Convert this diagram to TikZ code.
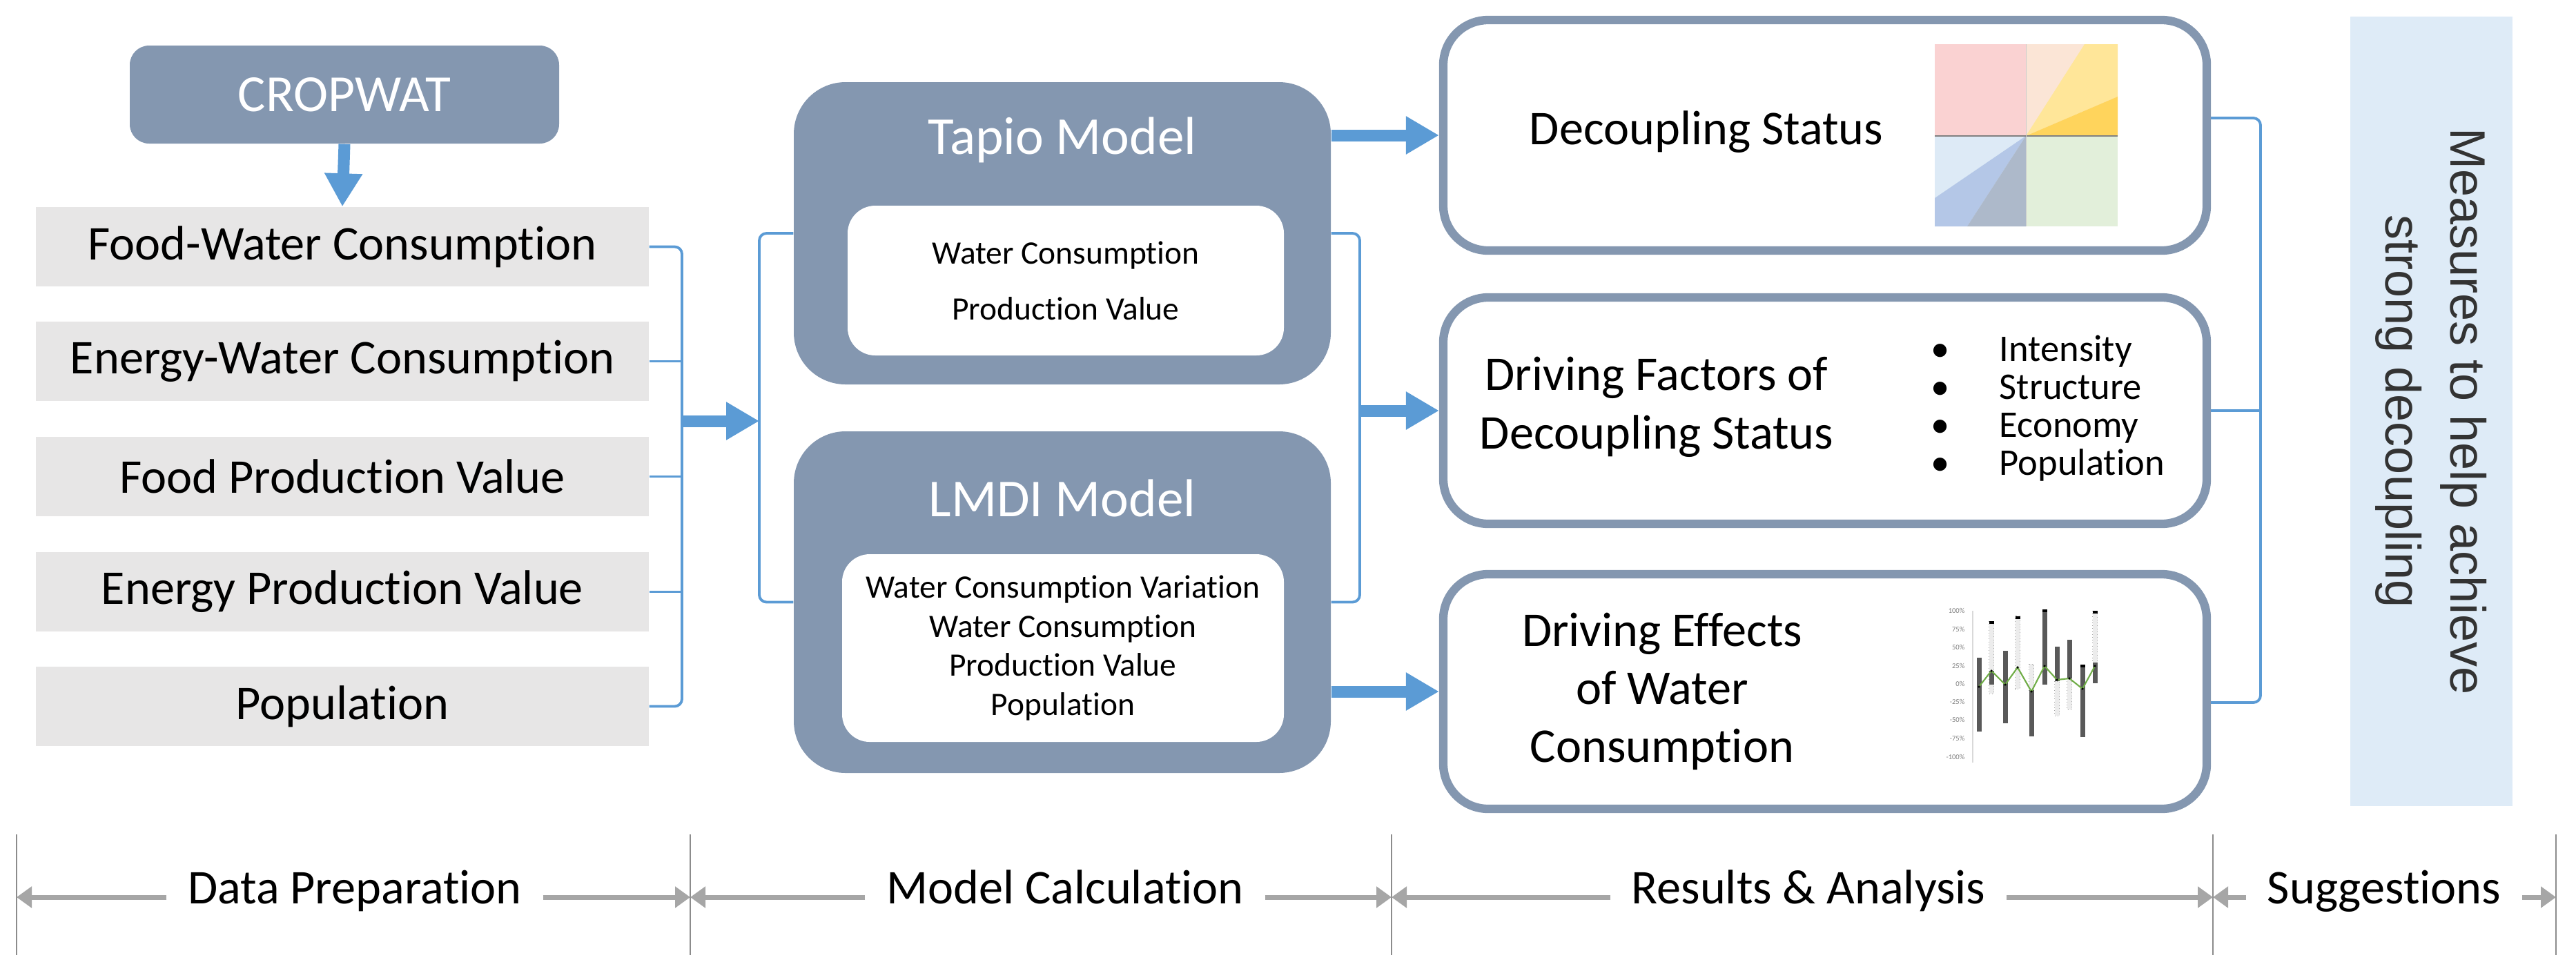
\documentclass[tikz,border=0pt]{standalone}
\usepackage{fontspec}
\setmainfont{Carlito}[Ligatures=NoCommon]
\newfontfamily\arialfont{Liberation Sans}
\usetikzlibrary{arrows.meta}

\definecolor{slate}{HTML}{8497B0}
\definecolor{paleGray}{HTML}{E7E6E6}
\definecolor{linkBlue}{HTML}{5B9BD5}
\definecolor{paleBlue}{HTML}{DEEBF7}
\definecolor{stageGray}{HTML}{A6A6A6}
\definecolor{divGray}{HTML}{8C8C8C}
\definecolor{suggText}{HTML}{333333}
\definecolor{qPink}{HTML}{FAD2D2}
\definecolor{qPeach}{HTML}{FBE5D6}
\definecolor{qYellow}{HTML}{FFE699}
\definecolor{qGold}{HTML}{FFD45C}
\definecolor{qSky}{HTML}{DDEAF6}
\definecolor{qBlue}{HTML}{B4C7E7}
\definecolor{qSlate}{HTML}{ADB9CA}
\definecolor{qGreen}{HTML}{E2EFDA}
\definecolor{barDark}{HTML}{595959}
\definecolor{lineGreen}{HTML}{70AD47}

\begin{document}
\begin{tikzpicture}[
  databox/.style = {fill=paleGray, minimum width=8.88cm, minimum height=1.15cm, font=\fontsize{20}{24}\selectfont},
  modelbox/.style = {fill=slate, rounded corners=0.75cm, minimum width=7.78cm},
  innerbox/.style = {fill=white, rounded corners=0.4cm, align=center},
  headline/.style = {text=white, font=\fontsize{22}{26}\selectfont},
  resultbox/.style = {draw=slate, line width=3.5pt, fill=white, rounded corners=0.65cm, minimum width=11.06cm},
  big/.style = {font=\fontsize{20}{24}\selectfont, align=center},
  link/.style = {draw=linkBlue, line width=1.1pt, rounded corners=3pt},
  fat/.style = {draw=linkBlue, line width=0.17cm, -{Triangle[length=0.48cm,width=0.52cm]}},
  stage/.style = {fill=white, inner xsep=0.3cm, inner ysep=0pt, text height=1.6ex, text depth=0.5ex, font=\fontsize{20}{24}\selectfont},
  stagearrow/.style = {draw=stageGray, line width=2pt, -{Triangle[length=0.22cm,width=0.3cm]}},
  divider/.style = {draw=divGray, line width=0.6pt},
  tick/.style = {anchor=east, inner sep=0pt, text=gray, font=\fontsize{3}{3}\selectfont}
]
\useasboundingbox (0,0) rectangle (37.32,-14.19);

% data preparation
\node[fill=slate, rounded corners=0.28cm, minimum width=6.22cm, minimum height=1.42cm, text=white, font=\fontsize{21.5}{26}\selectfont] (crop) at (4.99,-1.37) {CROPWAT};
\node[databox] (fw) at (4.96,-3.575) {Food-Water Consumption};
\node[databox] (ew) at (4.96,-5.235) {Energy-Water Consumption};
\node[databox] (fp) at (4.96,-6.905) {Food Production Value};
\node[databox] (ep) at (4.96,-8.575) {Energy Production Value};
\node[databox] (pop) at (4.96,-10.235) {Population};
\coordinate (lbar) at (9.88,-6.10);
\coordinate (mbar) at (11.00,-6.10);

% model calculation
\node[modelbox, minimum height=4.38cm] (tapio) at (15.39,-3.38) {};
\node[headline] (tapioT) at (15.39,-2.03) {Tapio Model};
\node[innerbox, minimum width=6.32cm, minimum height=2.17cm, font=\fontsize{13.5}{23}\selectfont] (tapioV) at (15.44,-4.065) {Water Consumption\\Production Value};
\node[modelbox, minimum height=4.95cm] (lmdi) at (15.39,-8.725) {};
\node[headline] (lmdiT) at (15.39,-7.22) {LMDI Model};
\node[innerbox, minimum width=6.4cm, minimum height=2.72cm, font=\fontsize{13.5}{16.2}\selectfont] (lmdiV) at (15.40,-9.39) {Water Consumption Variation\\Water Consumption\\Production Value\\Population};
\coordinate (rbar) at (19.70,-5.95);

% results and analysis
\node[resultbox, minimum height=3.34cm] (dec) at (26.44,-1.96) {};
\node[big] (decT) at (24.72,-1.91) {Decoupling Status};
\node[resultbox, minimum height=3.28cm] (fac) at (26.44,-5.95) {};
\node[big] (facT) at (24.00,-5.90) {Driving Factors of\\Decoupling Status};
\node[anchor=west, inner sep=0pt, font=\fontsize{15.5}{15.6}\selectfont] (facList) at (27.97,-5.95)
  {\begin{tabular}{@{}c@{\hspace{0.72cm}}l@{}}\textbullet & Intensity\\ \textbullet & Structure\\ \textbullet & Economy\\ \textbullet & Population\end{tabular}};
\node[resultbox, minimum height=3.40cm] (eff) at (26.44,-10.02) {};
\node[big] (effT) at (24.08,-10.02) {Driving Effects\\of Water\\Consumption};
\coordinate (sbar) at (32.75,-5.95);
\coordinate (decR) at ([yshift=0.25cm]dec.east);
\coordinate (effR) at ([yshift=-0.16cm]eff.east);

% suggestions
\node[fill=paleBlue, minimum width=11.44cm, minimum height=2.35cm, rotate=-90, align=center, text=suggText, font=\arialfont\fontsize{20.5}{26.7}\selectfont] (sugg) at (35.225,-5.96) {Measures to help achieve\\strong decoupling};

% connectors
\draw[fat] (crop.south) -- (fw.north);
\draw[link] (fw.east) -- (fw.east -| lbar) -- (pop.east -| lbar) -- (pop.east);
\draw[link] (ew.east) -- (ew.east -| lbar);
\draw[link] (fp.east) -- (fp.east -| lbar);
\draw[link] (ep.east) -- (ep.east -| lbar);
\draw[fat] (lbar) -- (mbar);
\draw[link] (tapio.west) -- (tapio.west -| mbar) -- (lmdi.west -| mbar) -- (lmdi.west);
\draw[link] (tapio.east) -- (tapio.east -| rbar) -- (lmdi.east -| rbar) -- (lmdi.east);
\draw[fat] (tapio.east |- dec.west) -- (dec.west);
\draw[fat] (rbar) -- (fac.west);
\draw[fat] (lmdi.east |- eff.west) -- (eff.west);
\draw[link] (decR) -- (decR -| sbar) -- (effR -| sbar) -- (effR);
\draw[link] (fac.east) -- (fac.east -| sbar);

% decoupling quadrants
\fill[qPink] (28.03,-0.64) rectangle (29.35,-1.97);
\fill[qPeach] (29.35,-0.64) rectangle (30.68,-1.97);
\fill[qYellow] (29.35,-1.97) -- (30.20,-0.64) -- (30.68,-0.64) -- (30.68,-1.40) -- cycle;
\fill[qGold] (29.35,-1.97) -- (30.68,-1.40) -- (30.68,-1.97) -- cycle;
\fill[qSky] (28.03,-1.97) rectangle (29.35,-3.28);
\fill[qBlue] (29.35,-1.97) -- (28.03,-2.87) -- (28.03,-3.28) -- (28.50,-3.28) -- cycle;
\fill[qSlate] (29.35,-1.97) -- (28.50,-3.28) -- (29.35,-3.28) -- cycle;
\fill[qGreen] (29.35,-1.97) rectangle (30.68,-3.28);
\draw[gray, line width=0.5pt] (28.03,-1.97) -- (30.68,-1.97);
\draw[gray!40, line width=0.3pt] (29.35,-0.64) -- (29.35,-3.28);

% driving effects bars
\draw[gray!30, line width=0.4pt] (28.58,-8.85) -- (28.58,-11.05);
\foreach \t/\y [count=\i] in {100\%/8.85, 75\%/9.12, 50\%/9.38, 25\%/9.65, 0\%/9.91, -25\%/10.17, -50\%/10.43, -75\%/10.70, -100\%/10.97}
  \node[tick] (pct\i) at (28.47,-\y) {\t};
\foreach \x/\a/\b in {28.85/9.00/10.05, 29.23/8.92/9.98, 29.43/9.62/10.00, 29.80/9.87/10.37, 29.98/9.83/10.28, 30.35/8.85/9.60}
  \draw[gray!70, fill=gray!15, line width=0.2pt, densely dotted] (\x-0.035,-\a) rectangle (\x+0.035,-\b);
\foreach \x/\a/\b in {28.67/9.53/10.60, 28.85/9.72/9.92, 29.05/9.43/10.48, 29.43/10.00/10.67, 29.62/8.83/9.92, 29.80/9.37/9.87, 29.98/9.27/9.83, 30.17/9.63/10.68, 30.35/9.60/9.90}
  \fill[barDark] (\x-0.035,-\a) rectangle (\x+0.035,-\b);
\foreach \x/\y in {28.85/9.00, 29.23/8.93, 29.62/8.83, 30.17/9.63, 30.35/8.85}
  \fill[black] (\x-0.035,-\y) rectangle (\x+0.035,-\y-0.04);
\draw[lineGreen, line width=0.6pt] (28.67,-9.95) -- (28.85,-9.72) -- (29.05,-9.92) -- (29.23,-9.67) -- (29.43,-10.02) -- (29.62,-9.65) -- (29.80,-9.85) -- (29.98,-9.83) -- (30.17,-9.98) -- (30.35,-9.65);
\foreach \x/\y in {28.67/9.95, 28.85/9.72, 29.05/9.92, 29.23/9.67, 29.43/10.02, 29.62/9.65, 29.80/9.85, 29.98/9.83, 30.17/9.98, 30.35/9.65}
  \fill[black] (\x,-\y) circle (0.018);

% stages
\coordinate (d0) at (0.24,-13.0);
\coordinate (d1) at (10.00,-13.0);
\coordinate (d2) at (20.16,-13.0);
\coordinate (d3) at (32.06,-13.0);
\coordinate (d4) at (37.03,-13.0);
\foreach \d in {d0,d1,d2,d3,d4}
  \draw[divider] ([yshift=0.91cm]\d) -- ([yshift=-0.84cm]\d);
\node[stage] (dp) at (5.14,-13.0) {Data Preparation};
\node[stage] (mc) at (15.43,-13.0) {Model Calculation};
\node[stage] (ra) at (26.20,-13.0) {Results \& Analysis};
\node[stage] (sg) at (34.54,-13.0) {Suggestions};
\draw[stagearrow] (dp.west) -- (d0);
\draw[stagearrow] (dp.east) -- (d1);
\draw[stagearrow] (mc.west) -- (d1);
\draw[stagearrow] (mc.east) -- (d2);
\draw[stagearrow] (ra.west) -- (d2);
\draw[stagearrow] (ra.east) -- (d3);
\draw[stagearrow] (sg.west) -- (d3);
\draw[stagearrow] (sg.east) -- (d4);
\end{tikzpicture}
\end{document}
